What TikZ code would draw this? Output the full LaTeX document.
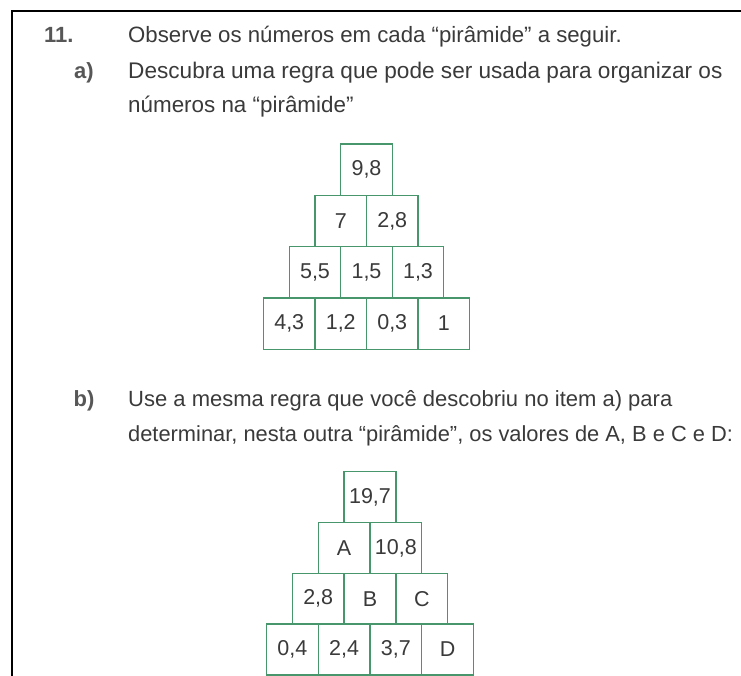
\documentclass[tikz,border=0pt]{standalone}
\usepackage{fontspec}
\setmainfont{Liberation Sans}
\definecolor{boxgreen}{RGB}{72,150,108}
\definecolor{ink}{RGB}{58,58,58}
\tikzset{
  txt/.style={anchor=base west, inner sep=0pt, text=ink, font=\fontsize{#1}{26}\selectfont},
  txt/.default=22.2,
  lbl/.style={anchor=base, inner sep=0pt, text=ink!85, font=\bfseries\fontsize{22}{25}\selectfont},
  cella/.style={draw=boxgreen, line width=1.3pt, minimum width=51.5pt, minimum height=51.3pt,
    inner sep=0pt, anchor=center, text=ink, font=\fontsize{21.5}{24}\selectfont},
  cellb/.style={cella, minimum width=51.8pt, minimum height=50.8pt}
}
\begin{document}
\begin{tikzpicture}[x=1pt,y=-1pt]
\useasboundingbox (0,0) rectangle (741,675);
\clip (0,0) rectangle (741,675);
% frame
\draw[line width=2.4pt, black] (12,676) -- (12,11) -- (742,11);
% texts
\node[lbl, anchor=base west] (n11) at (44,42) {11.};
\node[txt=22.2] (t1) at (128,42) {Observe os números em cada “pirâmide” a seguir.};
\node[lbl] (la) at (84,78) {a)};
\node[txt=22.6] (t2) at (128,78) {Descubra uma regra que pode ser usada para organizar os};
\node[txt=22.4] (t3) at (128,112) {números na “pirâmide”};
\node[lbl] (lb) at (84,406) {b)};
\node[txt=22.0] (t4) at (128,406) {Use a mesma regra que você descobriu no item a) para};
\node[txt=21.85] (t5) at (128,441) {determinar, nesta outra “pirâmide”, os valores de A, B e C e D:};
% pyramid a
\def\ax{366.5}\def\aw{51.5}\def\ah{51.3}\def\ay{144}
\node[cella] (a11) at (\ax, \ay+0.5*\ah) {9,8};
\node[cella] (a21) at (\ax-0.5*\aw, \ay+1.5*\ah) {7};
\node[cella] (a22) at (\ax+0.5*\aw, \ay+1.5*\ah) {2,8};
\node[cella] (a31) at (\ax-\aw, \ay+2.5*\ah) {5,5};
\node[cella] (a32) at (\ax, \ay+2.5*\ah) {1,5};
\node[cella] (a33) at (\ax+\aw, \ay+2.5*\ah) {1,3};
\node[cella] (a41) at (\ax-1.5*\aw, \ay+3.5*\ah) {4,3};
\node[cella] (a42) at (\ax-0.5*\aw, \ay+3.5*\ah) {1,2};
\node[cella] (a43) at (\ax+0.5*\aw, \ay+3.5*\ah) {0,3};
\node[cella] (a44) at (\ax+1.5*\aw, \ay+3.5*\ah) {1};
% pyramid b
\def\bx{370}\def\bw{51.8}\def\bh{50.8}\def\by{471.7}
\node[cellb] (b11) at (\bx, \by+0.5*\bh) {19,7};
\node[cellb] (b21) at (\bx-0.5*\bw, \by+1.5*\bh) {A};
\node[cellb] (b22) at (\bx+0.5*\bw, \by+1.5*\bh) {10,8};
\node[cellb] (b31) at (\bx-\bw, \by+2.5*\bh) {2,8};
\node[cellb] (b32) at (\bx, \by+2.5*\bh) {B};
\node[cellb] (b33) at (\bx+\bw, \by+2.5*\bh) {C};
\node[cellb] (b41) at (\bx-1.5*\bw, \by+3.5*\bh) {0,4};
\node[cellb] (b42) at (\bx-0.5*\bw, \by+3.5*\bh) {2,4};
\node[cellb] (b43) at (\bx+0.5*\bw, \by+3.5*\bh) {3,7};
\node[cellb] (b44) at (\bx+1.5*\bw, \by+3.5*\bh) {D};
\end{tikzpicture}
\end{document}
